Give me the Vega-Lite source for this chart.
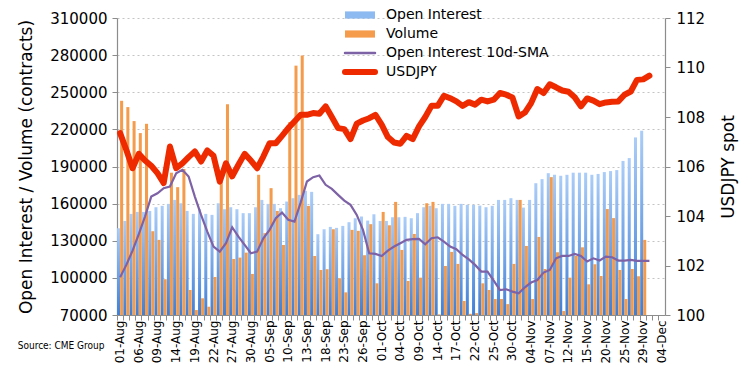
{
  "$schema": "https://vega.github.io/schema/vega-lite/v6.json",
  "width": 548,
  "height": 297,
  "autosize": "none",
  "padding": {"left": 117, "top": 18, "right": 79, "bottom": 71},
  "background": "white",
  "config": {
    "view": {"stroke": null},
    "font": "DejaVu Sans",
    "axis": {"labelColor": "#000", "titleColor": "#000", "titleFontWeight": "normal", "labelFont": "DejaVu Sans", "titleFont": "DejaVu Sans", "labelOverlap": false},
    "axisY": {"labelOverlap": false}
  },
  "title": {"text": "Source: CME Group", "orient": "bottom", "anchor": "start", "frame": "bounds", "font": "DejaVu Sans Condensed, Liberation Sans, sans-serif", "fontSize": 10, "fontWeight": "normal", "color": "#000", "offset": -22},
  "data": {"values": [
    {"d":"01-Aug","oi":140100,"vol":243100,"sma":100500,"jpy":107.35},
    {"d":"02-Aug","oi":146000,"vol":238000,"sma":110500,"jpy":106.67},
    {"d":"05-Aug","oi":151700,"vol":226700,"sma":122000,"jpy":105.93},
    {"d":"06-Aug","oi":153300,"vol":217000,"sma":135300,"jpy":106.51},
    {"d":"07-Aug","oi":153300,"vol":224500,"sma":149600,"jpy":106.24},
    {"d":"08-Aug","oi":154100,"vol":137700,"sma":165700,"jpy":106.03},
    {"d":"09-Aug","oi":157100,"vol":130700,"sma":168400,"jpy":105.73},
    {"d":"12-Aug","oi":158200,"vol":98900,"sma":172500,"jpy":105.33},
    {"d":"13-Aug","oi":159800,"vol":185000,"sma":173800,"jpy":106.81},
    {"d":"14-Aug","oi":163000,"vol":173300,"sma":184600,"jpy":105.93},
    {"d":"15-Aug","oi":160300,"vol":188000,"sma":187300,"jpy":106.13},
    {"d":"16-Aug","oi":154100,"vol":90200,"sma":181900,"jpy":106.38},
    {"d":"19-Aug","oi":151700,"vol":74000,"sma":165700,"jpy":106.61},
    {"d":"20-Aug","oi":155500,"vol":83500,"sma":150900,"jpy":106.20},
    {"d":"21-Aug","oi":151700,"vol":76700,"sma":137400,"jpy":106.65},
    {"d":"22-Aug","oi":150900,"vol":100700,"sma":125300,"jpy":106.43},
    {"d":"23-Aug","oi":160300,"vol":178000,"sma":121200,"jpy":105.39},
    {"d":"26-Aug","oi":155500,"vol":240400,"sma":128000,"jpy":106.13},
    {"d":"27-Aug","oi":157100,"vol":115300,"sma":140900,"jpy":105.60},
    {"d":"28-Aug","oi":155500,"vol":116400,"sma":133400,"jpy":106.07},
    {"d":"29-Aug","oi":152300,"vol":120400,"sma":126600,"jpy":106.51},
    {"d":"30-Aug","oi":152300,"vol":103200,"sma":119900,"jpy":106.24},
    {"d":"03-Sep","oi":157100,"vol":183300,"sma":121200,"jpy":105.93},
    {"d":"04-Sep","oi":163000,"vol":136100,"sma":132000,"jpy":106.40},
    {"d":"05-Sep","oi":159800,"vol":172500,"sma":138800,"jpy":106.94},
    {"d":"06-Sep","oi":159800,"vol":154100,"sma":148200,"jpy":106.94},
    {"d":"09-Sep","oi":156300,"vol":126600,"sma":152800,"jpy":107.24},
    {"d":"10-Sep","oi":161700,"vol":225900,"sma":146900,"jpy":107.55},
    {"d":"11-Sep","oi":164400,"vol":271500,"sma":145500,"jpy":107.82},
    {"d":"12-Sep","oi":167100,"vol":279600,"sma":161000,"jpy":108.09},
    {"d":"13-Sep","oi":170300,"vol":158200,"sma":177900,"jpy":108.09},
    {"d":"16-Sep","oi":169500,"vol":117700,"sma":181400,"jpy":108.16},
    {"d":"17-Sep","oi":135300,"vol":106400,"sma":182700,"jpy":108.13},
    {"d":"18-Sep","oi":139300,"vol":107000,"sma":175200,"jpy":108.43},
    {"d":"19-Sep","oi":141200,"vol":139300,"sma":171900,"jpy":108.00},
    {"d":"20-Sep","oi":140400,"vol":99700,"sma":167100,"jpy":107.55},
    {"d":"23-Sep","oi":142000,"vol":88300,"sma":162500,"jpy":107.51},
    {"d":"24-Sep","oi":145000,"vol":138800,"sma":159000,"jpy":107.11},
    {"d":"25-Sep","oi":148200,"vol":138000,"sma":150900,"jpy":107.73},
    {"d":"26-Sep","oi":149600,"vol":118300,"sma":138800,"jpy":107.86},
    {"d":"27-Sep","oi":146300,"vol":143400,"sma":119900,"jpy":107.95},
    {"d":"30-Sep","oi":151400,"vol":95600,"sma":119400,"jpy":108.09},
    {"d":"01-Oct","oi":146000,"vol":153300,"sma":117700,"jpy":107.69},
    {"d":"02-Oct","oi":146000,"vol":142500,"sma":122000,"jpy":107.19},
    {"d":"03-Oct","oi":149000,"vol":161400,"sma":125300,"jpy":106.97},
    {"d":"04-Oct","oi":149000,"vol":122600,"sma":128000,"jpy":106.92},
    {"d":"07-Oct","oi":149300,"vol":97500,"sma":130700,"jpy":107.24},
    {"d":"08-Oct","oi":148200,"vol":135500,"sma":131300,"jpy":107.11},
    {"d":"09-Oct","oi":152300,"vol":100200,"sma":131500,"jpy":107.62},
    {"d":"10-Oct","oi":157100,"vol":160300,"sma":127200,"jpy":108.00},
    {"d":"11-Oct","oi":158200,"vol":161400,"sma":132000,"jpy":108.45},
    {"d":"14-Oct","oi":156300,"vol":70500,"sma":132800,"jpy":108.45},
    {"d":"15-Oct","oi":159800,"vol":109600,"sma":129300,"jpy":108.86},
    {"d":"16-Oct","oi":159800,"vol":121000,"sma":125300,"jpy":108.76},
    {"d":"17-Oct","oi":158200,"vol":111300,"sma":123100,"jpy":108.63},
    {"d":"18-Oct","oi":159800,"vol":81300,"sma":118500,"jpy":108.45},
    {"d":"21-Oct","oi":159000,"vol":71000,"sma":115000,"jpy":108.60},
    {"d":"22-Oct","oi":159000,"vol":71500,"sma":110500,"jpy":108.50},
    {"d":"23-Oct","oi":158400,"vol":95600,"sma":105100,"jpy":108.70},
    {"d":"24-Oct","oi":157100,"vol":90200,"sma":105100,"jpy":108.63},
    {"d":"25-Oct","oi":158200,"vol":82900,"sma":97800,"jpy":108.70},
    {"d":"28-Oct","oi":163000,"vol":82900,"sma":90200,"jpy":108.97},
    {"d":"29-Oct","oi":163000,"vol":78800,"sma":90800,"jpy":108.90},
    {"d":"30-Oct","oi":164400,"vol":111300,"sma":88900,"jpy":108.79},
    {"d":"31-Oct","oi":163000,"vol":163000,"sma":87500,"jpy":108.02},
    {"d":"01-Nov","oi":156800,"vol":125800,"sma":92400,"jpy":108.18},
    {"d":"04-Nov","oi":163000,"vol":82900,"sma":96200,"jpy":108.56},
    {"d":"05-Nov","oi":176500,"vol":133100,"sma":98300,"jpy":109.13},
    {"d":"06-Nov","oi":179800,"vol":107200,"sma":104300,"jpy":108.97},
    {"d":"07-Nov","oi":184600,"vol":181400,"sma":106400,"jpy":109.32},
    {"d":"08-Nov","oi":183300,"vol":120700,"sma":115800,"jpy":109.20},
    {"d":"11-Nov","oi":182500,"vol":73200,"sma":117700,"jpy":109.07},
    {"d":"12-Nov","oi":183300,"vol":100200,"sma":117700,"jpy":109.02},
    {"d":"13-Nov","oi":185000,"vol":117700,"sma":119400,"jpy":108.80},
    {"d":"14-Nov","oi":185000,"vol":124700,"sma":117700,"jpy":108.43},
    {"d":"15-Nov","oi":185000,"vol":94800,"sma":113200,"jpy":108.75},
    {"d":"18-Nov","oi":183300,"vol":111000,"sma":115800,"jpy":108.66},
    {"d":"19-Nov","oi":184000,"vol":101500,"sma":114000,"jpy":108.52},
    {"d":"20-Nov","oi":185500,"vol":155600,"sma":117200,"jpy":108.59},
    {"d":"21-Nov","oi":186300,"vol":148300,"sma":116700,"jpy":108.62},
    {"d":"22-Nov","oi":187100,"vol":106400,"sma":114000,"jpy":108.63},
    {"d":"25-Nov","oi":194500,"vol":82900,"sma":114000,"jpy":108.90},
    {"d":"26-Nov","oi":196800,"vol":107200,"sma":114500,"jpy":109.03},
    {"d":"27-Nov","oi":213500,"vol":101300,"sma":113700,"jpy":109.50},
    {"d":"29-Nov","oi":218900,"vol":130700,"sma":113700,"jpy":109.52},
    {"d":"02-Dec","oi":null,"vol":null,"sma":113700,"jpy":109.67}
  ]},
  "encoding": {
    "x": {"field": "d", "type": "nominal", "sort": null,
      "scale": {"paddingInner": 0, "paddingOuter": 0, "domain": ["01-Aug","02-Aug","05-Aug","06-Aug","07-Aug","08-Aug","09-Aug","12-Aug","13-Aug","14-Aug","15-Aug","16-Aug","19-Aug","20-Aug","21-Aug","22-Aug","23-Aug","26-Aug","27-Aug","28-Aug","29-Aug","30-Aug","03-Sep","04-Sep","05-Sep","06-Sep","09-Sep","10-Sep","11-Sep","12-Sep","13-Sep","16-Sep","17-Sep","18-Sep","19-Sep","20-Sep","23-Sep","24-Sep","25-Sep","26-Sep","27-Sep","30-Sep","01-Oct","02-Oct","03-Oct","04-Oct","07-Oct","08-Oct","09-Oct","10-Oct","11-Oct","14-Oct","15-Oct","16-Oct","17-Oct","18-Oct","21-Oct","22-Oct","23-Oct","24-Oct","25-Oct","28-Oct","29-Oct","30-Oct","31-Oct","01-Nov","04-Nov","05-Nov","06-Nov","07-Nov","08-Nov","11-Nov","12-Nov","13-Nov","14-Nov","15-Nov","18-Nov","19-Nov","20-Nov","21-Nov","22-Nov","25-Nov","26-Nov","27-Nov","29-Nov","02-Dec","03-Dec","04-Dec"]}}
  },
  "layer": [
    {
      "encoding": {
        "x": {"field": "d", "type": "nominal", "sort": null, "axis": {"orient": "bottom", "title": null, "ticks": false, "labelAngle": -90, "labelFontSize": 12, "labelPadding": 5, "labelOverlap": false, "domainColor": "#8c8c8c", "domainWidth": 1.2, "grid": false,
          "values": ["01-Aug","06-Aug","09-Aug","14-Aug","19-Aug","22-Aug","27-Aug","30-Aug","05-Sep","10-Sep","13-Sep","18-Sep","23-Sep","26-Sep","01-Oct","04-Oct","09-Oct","14-Oct","17-Oct","22-Oct","25-Oct","30-Oct","04-Nov","07-Nov","12-Nov","15-Nov","20-Nov","25-Nov","29-Nov","04-Dec"]}},
        "y": {"type": "quantitative", "scale": {"domain": [70000, 310000], "zero": false, "nice": false},
          "axis": {"title": "Open Interest / Volume (contracts)", "titleFontSize": 17, "titlePadding": 14, "labelFontSize": 15, "labelPadding": 5, "labelOverlap": false, "values": [70000,100000,130000,160000,190000,220000,250000,280000,310000], "format": "d", "tickSize": 5, "tickColor": "#8c8c8c", "domainColor": "#8c8c8c", "domainWidth": 1.2, "grid": true, "gridColor": "#c4c4c4", "gridDash": [2, 3], "gridWidth": 1}}
      },
      "layer": [
        {
          "transform": [{"fold": ["oi", "vol"], "as": ["k", "v"]}, {"filter": "datum.k == 'oi'"}],
          "mark": {"type": "bar", "color": {"gradient": "linear", "x1": 0, "y1": 0, "x2": 0, "y2": 1, "stops": [{"offset": 0, "color": "#ABCDF8"}, {"offset": 1, "color": "#3E7FD7"}]}},
          "encoding": {
            "xOffset": {"field": "k", "scale": {"domain": ["oi", "vol"], "paddingInner": 0, "paddingOuter": 0.03}},
            "y": {"field": "v", "type": "quantitative"},
            "y2": {"datum": 70000}
          }
        },
        {
          "transform": [{"fold": ["oi", "vol"], "as": ["k", "v"]}, {"filter": "datum.k == 'vol'"}],
          "mark": {"type": "bar", "color": "#F59B4C"},
          "encoding": {
            "xOffset": {"field": "k", "scale": {"domain": ["oi", "vol"], "paddingInner": 0, "paddingOuter": 0.03}},
            "y": {"field": "v", "type": "quantitative"},
            "y2": {"datum": 70000},
            "color": {"datum": "Volume", "type": "nominal",
              "scale": {"domain": ["Open Interest", "Volume", "Open Interest 10d-SMA", "USDJPY"], "range": ["#8DBAF0", "#F59B4C", "#7E62A6", "#EE2B00"]},
              "legend": {"orient": "none", "legendX": 236, "legendY": -10, "direction": "vertical", "title": null, "padding": 0, "gridAlign": "all",
                "labelFont": "DejaVu Sans", "labelFontSize": 14, "labelColor": "#000", "labelOffset": 19, "labelLimit": 400, "symbolSize": 300, "rowPadding": -6.3,
                "encode": {"symbols": {"update": {
                  "shape": {"signal": "datum.value == 'Open Interest' || datum.value == 'Volume' ? 'M-1,-0.24H1V0.24H-1Z' : 'M-1,0H1'"},
                  "size": {"value": 900},
                  "strokeWidth": {"signal": "datum.value == 'USDJPY' ? 6 : datum.value == 'Open Interest 10d-SMA' ? 2.5 : 0"},
                  "fill": {"signal": "datum.value == 'Open Interest' ? '#8DBAF0' : datum.value == 'Volume' ? '#F59B4C' : 'transparent'"},
                  "stroke": {"signal": "datum.value == 'USDJPY' ? '#EE2B00' : datum.value == 'Open Interest 10d-SMA' ? '#7E62A6' : 'transparent'"},
                  "strokeCap": {"value": "round"},
                  "opacity": {"value": 1}
                }}}}
            }
          }
        },
        {
          "mark": {"type": "line", "strokeWidth": 2.2, "color": "#7E62A6"},
          "encoding": {
            "y": {"field": "sma", "type": "quantitative"},
            "color": {"datum": "Open Interest 10d-SMA", "type": "nominal"}
          }
        }
      ]
    },
    {
      "mark": {"type": "line", "strokeWidth": 6, "strokeCap": "round", "strokeJoin": "round", "color": "#EE2B00"},
      "encoding": {
        "x": {"field": "d", "type": "nominal", "sort": null, "axis": {"orient": "bottom", "title": null, "labels": false, "ticks": true, "tickSize": 5, "tickColor": "#8c8c8c", "bandPosition": 0, "domain": false, "grid": false}},
        "y": {"field": "jpy", "type": "quantitative", "scale": {"domain": [100, 112], "zero": false, "nice": false},
          "axis": {"orient": "right", "title": "USDJPY spot", "titleAngle": 270, "titleFontSize": 17, "titlePadding": 33, "labelFontSize": 15, "labelPadding": 6, "labelOverlap": false, "values": [100,102,104,106,108,110,112], "tickSize": 5, "tickColor": "#8c8c8c", "domainColor": "#8c8c8c", "domainWidth": 1.2, "grid": false}},
        "color": {"datum": "USDJPY", "type": "nominal"}
      }
    }
  ],
  "resolve": {"scale": {"y": "independent"}, "axis": {"x": "independent"}}
}
